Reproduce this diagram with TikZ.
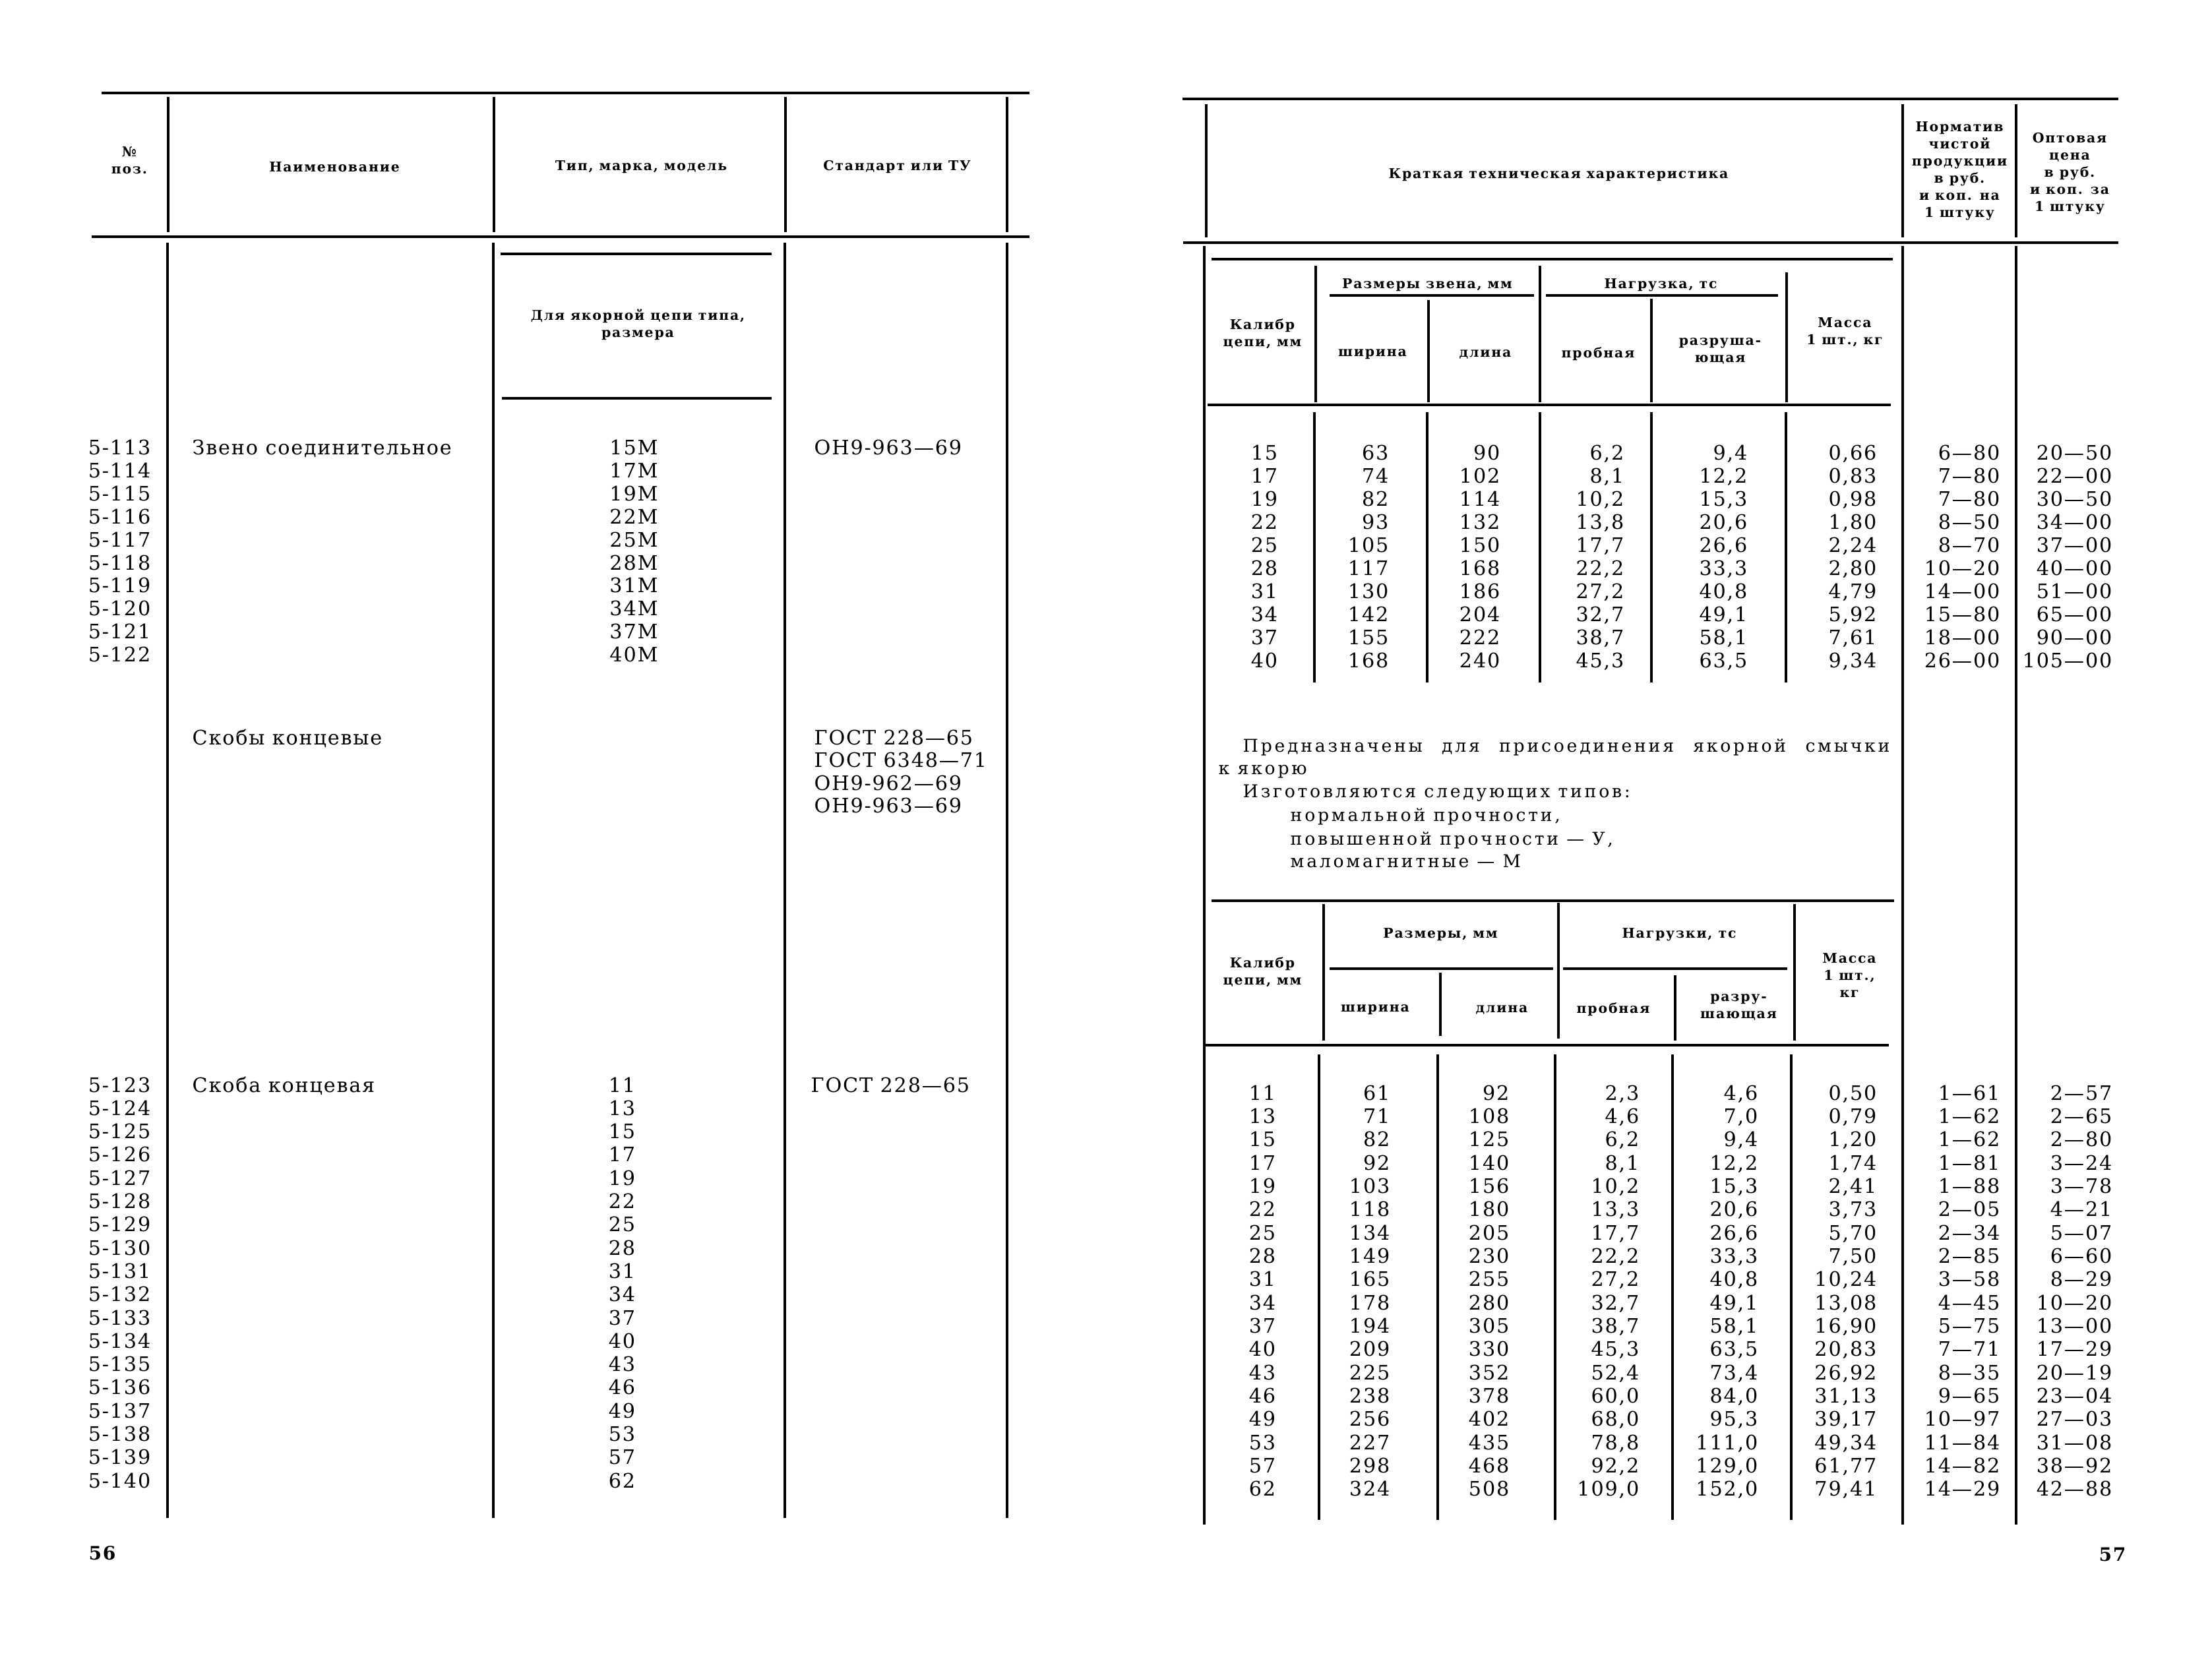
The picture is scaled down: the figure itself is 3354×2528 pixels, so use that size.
\documentclass[tikz,border=0pt]{standalone}
\usepackage{fontspec}
\setmainfont{DejaVu Serif}
\newfontfamily\bodyf[LetterSpace=6]{DejaVu Serif}
\newfontfamily\hdrf[LetterSpace=9]{DejaVu Serif}
\newfontfamily\txtf[LetterSpace=14]{DejaVu Serif}
\tikzset{
  hr/.style={line width=1.3pt},
  vr/.style={line width=1pt},
  bd/.style={font=\bodyf\fontsize{8.6}{10}\selectfont, inner sep=0pt},
  hd/.style={font=\hdrf\bfseries\fontsize{5.8}{7.4}\selectfont, inner sep=0pt, align=center},
  tx/.style={font=\txtf\fontsize{7.6}{9}\selectfont, inner sep=0pt, anchor=base west},
  pg/.style={font=\bodyf\bfseries\fontsize{8}{9}\selectfont, inner sep=0pt},
}
\begin{document}
\begin{tikzpicture}[x=0.01cm,y=-0.01cm]
\fill[white] (0,0) rectangle (3354,2528);
\useasboundingbox (0,0) rectangle (3354,2528);

% ================= LEFT PAGE =================
\draw[hr] (154,141) -- (1561,141);
\draw[hr] (139,359) -- (1561,359);
\foreach \x in {255,749,1191,1527} \draw[vr] (\x,147) -- (\x,352);
\foreach \x in {254,748,1190,1527} \draw[vr] (\x,368) -- (\x,2302);
\draw[hr] (759,385) -- (1170,385);
\draw[hr] (761,604) -- (1170,604);

\node[hd] (hnum) at (196,243) {№\\поз.};
\node[hd] (hname) at (507,253) {Наименование};
\node[hd] (htype) at (972,253) {Тип, марка, модель};
\node[hd] (hstd) at (1360,253) {Стандарт или ТУ};
\node[hd] (hfor) at (967,492) {Для якорной цепи типа,\\размера};

\node[bd,anchor=base west] (n1) at (291,690) {Звено соединительное};
\node[bd,anchor=base west] (s1) at (1234,690) {ОН9-963—69};
\foreach \k [count=\i from 0] in {113,...,122}
  \node[bd,anchor=base east] (pa\k) at (229,690+\i*34.8) {5-\k};
\foreach \s [count=\i from 0] in {15,17,19,22,25,28,31,34,37,40}
  \node[bd,anchor=base] (ma\i) at (961,690+\i*34.8) {\s M};

\node[bd,anchor=base west] (n2) at (291,1129) {Скобы концевые};
\node[bd,anchor=base west] (s2a) at (1234,1129) {ГОСТ 228—65};
\node[bd,anchor=base west] (s2b) at (1234,1163.5) {ГОСТ 6348—71};
\node[bd,anchor=base west] (s2c) at (1234,1198) {ОН9-962—69};
\node[bd,anchor=base west] (s2d) at (1234,1232.5) {ОН9-963—69};

\node[bd,anchor=base west] (n3) at (291,1656) {Скоба концевая};
\node[bd,anchor=base west] (s3) at (1229,1656) {ГОСТ 228—65};
\foreach \k [count=\i from 0] in {123,...,140}
  \node[bd,anchor=base east] (pb\k) at (229,1656+\i*35.3) {5-\k};
\foreach \s [count=\i from 0] in {11,13,15,17,19,22,25,28,31,34,37,40,43,46,49,53,57,62}
  \node[bd,anchor=base] (mb\i) at (943,1656+\i*35.3) {\s};

\node[pg] (p56) at (155,2355) {56};

% ================= RIGHT PAGE =================
\draw[hr] (1793,150) -- (3212,150);
\draw[hr] (1794,368) -- (3212,368);
\foreach \x in {1829,2885,3057} \draw[vr] (\x,158) -- (\x,360);
\foreach \x in {1826,2885,3057} \draw[vr] (\x,373) -- (\x,2312);

\node[hd] (hchar) at (2363,265) {Краткая техническая характеристика};
\node[hd] (hnorm) at (2971,259) {Норматив\\чистой\\продукции\\в руб.\\и коп. на\\1 штуку};
\node[hd] (hprice) at (3138,263) {Оптовая\\цена\\в руб.\\и коп. за\\1 штуку};

% ---- inner table 1
\draw[hr] (1837,393) -- (2870,393);
\draw[vr] (1995,403) -- (1995,610);
\draw[vr] (2335,403) -- (2335,610);
\draw[vr] (2709,413) -- (2709,610);
\draw[hr] (2016,448) -- (2326,448);
\draw[hr] (2344,448) -- (2696,448);
\draw[vr] (2166,455) -- (2166,610);
\draw[vr] (2504,453) -- (2504,610);
\draw[hr] (1831,614) -- (2867,614);
\foreach \x in {1993,2164,2335,2504,2708} \draw[vr] (\x,625) -- (\x,1035);

\node[hd] (ta-cal) at (1914,506) {Калибр\\цепи, мм};
\node[hd] (ta-dim) at (2164,432) {Размеры звена, мм};
\node[hd] (ta-load) at (2518,432) {Нагрузка, тс};
\node[hd] (ta-w) at (2081,537) {ширина};
\node[hd] (ta-l) at (2252,537) {длина};
\node[hd] (ta-p) at (2423,537) {пробная};
\node[hd] (ta-r) at (2608,532) {разруша-\\ющая};
\node[hd] (ta-m) at (2797,504) {Масса\\1 шт., кг};

\foreach \c/\w/\l/\p/\r/\m/\n/\o [count=\i from 0] in {
  15/63/90/{6,2}/{9,4}/{0,66}/6—80/20—50,
  17/74/102/{8,1}/{12,2}/{0,83}/7—80/22—00,
  19/82/114/{10,2}/{15,3}/{0,98}/7—80/30—50,
  22/93/132/{13,8}/{20,6}/{1,80}/8—50/34—00,
  25/105/150/{17,7}/{26,6}/{2,24}/8—70/37—00,
  28/117/168/{22,2}/{33,3}/{2,80}/10—20/40—00,
  31/130/186/{27,2}/{40,8}/{4,79}/14—00/51—00,
  34/142/204/{32,7}/{49,1}/{5,92}/15—80/65—00,
  37/155/222/{38,7}/{58,1}/{7,61}/18—00/90—00,
  40/168/240/{45,3}/{63,5}/{9,34}/26—00/105—00}
{
  \node[bd,anchor=base] (ta-\i-1) at (1917,698+\i*34.9) {\c};
  \node[bd,anchor=base east] (ta-\i-2) at (2106,698+\i*34.9) {\w};
  \node[bd,anchor=base east] (ta-\i-3) at (2275,698+\i*34.9) {\l};
  \node[bd,anchor=base east] (ta-\i-4) at (2463,698+\i*34.9) {\p};
  \node[bd,anchor=base east] (ta-\i-5) at (2650,698+\i*34.9) {\r};
  \node[bd,anchor=base east] (ta-\i-6) at (2846,698+\i*34.9) {\m};
  \node[bd,anchor=base east] (ta-\i-7) at (3033,698+\i*34.9) {\n};
  \node[bd,anchor=base east] (ta-\i-8) at (3203,698+\i*34.9) {\o};
}

% ---- text block
\node[tx] (l1) at (1884,1140) {\hbox to 9.8cm{Предназначены \hfill для \hfill присоединения \hfill якорной \hfill смычки}};
\node[tx] (l2) at (1847,1174) {к якорю};
\node[tx] (l3) at (1884,1209) {Изготовляются следующих типов:};
\node[tx] (l4) at (1956,1245) {нормальной прочности,};
\node[tx] (l5) at (1956,1281) {повышенной прочности — У,};
\node[tx] (l6) at (1956,1315) {маломагнитные — М};

% ---- inner table 2
\draw[hr] (1837,1366) -- (2872,1366);
\draw[vr] (2007,1371) -- (2007,1578);
\draw[vr] (2363,1369) -- (2363,1575);
\draw[vr] (2721,1371) -- (2721,1578);
\draw[hr] (2016,1469) -- (2355,1469);
\draw[hr] (2370,1469) -- (2710,1469);
\draw[vr] (2184,1475) -- (2184,1571);
\draw[vr] (2540,1479) -- (2540,1578);
\draw[hr] (1828,1585) -- (2864,1585);
\foreach \x in {2000,2180,2358,2536,2716} \draw[vr] (\x,1599) -- (\x,2305);

\node[hd] (tb-cal) at (1914,1474) {Калибр\\цепи, мм};
\node[hd] (tb-dim) at (2184,1417) {Размеры, мм};
\node[hd] (tb-load) at (2546,1417) {Нагрузки, тс};
\node[hd] (tb-w) at (2085,1531) {ширина};
\node[hd] (tb-l) at (2277,1531) {длина};
\node[hd] (tb-p) at (2446,1531) {пробная};
\node[hd] (tb-r) at (2636,1527) {разру-\\шающая};
\node[hd] (tb-m) at (2804,1479) {Масса\\1 шт.,\\кг};

\foreach \c/\w/\l/\p/\r/\m/\n/\o [count=\i from 0] in {
  11/61/92/{2,3}/{4,6}/{0,50}/1—61/2—57,
  13/71/108/{4,6}/{7,0}/{0,79}/1—62/2—65,
  15/82/125/{6,2}/{9,4}/{1,20}/1—62/2—80,
  17/92/140/{8,1}/{12,2}/{1,74}/1—81/3—24,
  19/103/156/{10,2}/{15,3}/{2,41}/1—88/3—78,
  22/118/180/{13,3}/{20,6}/{3,73}/2—05/4—21,
  25/134/205/{17,7}/{26,6}/{5,70}/2—34/5—07,
  28/149/230/{22,2}/{33,3}/{7,50}/2—85/6—60,
  31/165/255/{27,2}/{40,8}/{10,24}/3—58/8—29,
  34/178/280/{32,7}/{49,1}/{13,08}/4—45/10—20,
  37/194/305/{38,7}/{58,1}/{16,90}/5—75/13—00,
  40/209/330/{45,3}/{63,5}/{20,83}/7—71/17—29,
  43/225/352/{52,4}/{73,4}/{26,92}/8—35/20—19,
  46/238/378/{60,0}/{84,0}/{31,13}/9—65/23—04,
  49/256/402/{68,0}/{95,3}/{39,17}/10—97/27—03,
  53/227/435/{78,8}/{111,0}/{49,34}/11—84/31—08,
  57/298/468/{92,2}/{129,0}/{61,77}/14—82/38—92,
  62/324/508/{109,0}/{152,0}/{79,41}/14—29/42—88}
{
  \node[bd,anchor=base] (tb-\i-1) at (1914,1668+\i*35.35) {\c};
  \node[bd,anchor=base east] (tb-\i-2) at (2108,1668+\i*35.35) {\w};
  \node[bd,anchor=base east] (tb-\i-3) at (2289,1668+\i*35.35) {\l};
  \node[bd,anchor=base east] (tb-\i-4) at (2486,1668+\i*35.35) {\p};
  \node[bd,anchor=base east] (tb-\i-5) at (2666,1668+\i*35.35) {\r};
  \node[bd,anchor=base east] (tb-\i-6) at (2846,1668+\i*35.35) {\m};
  \node[bd,anchor=base east] (tb-\i-7) at (3033,1668+\i*35.35) {\n};
  \node[bd,anchor=base east] (tb-\i-8) at (3203,1668+\i*35.35) {\o};
}

\node[pg] (p57) at (3203,2357) {57};
\end{tikzpicture}
\end{document}
